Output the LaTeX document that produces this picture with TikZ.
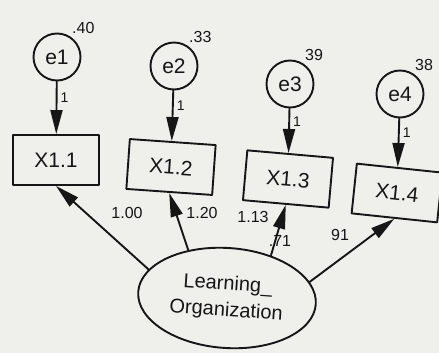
\documentclass[tikz,border=0pt]{standalone}
\usepackage{fontspec}
\setmainfont{Liberation Sans}
\usetikzlibrary{arrows.meta,shapes.geometric}
\newcommand{\Unit}{1pt}
\newcommand{\Edge}{1.9pt}
\definecolor{ink}{HTML}{161616}
\definecolor{paper}{HTML}{EFEFEB}

\tikzset{
  errvar/.style={circle,draw=ink,line width=\Edge,minimum size=47pt,inner sep=0pt,
    text=ink,font=\fontsize{21}{23}\selectfont},
  indic/.style={rectangle,draw=ink,line width=\Edge,minimum width=86pt,minimum height=50pt,
    inner sep=0pt,text=ink,font=\fontsize{21}{24}\selectfont},
  latent/.style={ellipse,draw=ink,line width=\Edge,minimum width=178pt,minimum height=100pt,
    inner sep=0pt,align=center,text=ink,font=\fontsize{20}{26}\selectfont},
  load/.style={draw=ink,line width=\Edge,-{Triangle[length=24pt,width=12pt]}},
  num/.style={text=ink,inner sep=1pt,font=\fontsize{16}{17}\selectfont},
  one/.style={text=ink,inner sep=1pt,font=\fontsize{14}{15}\selectfont}
}

\begin{document}
\begin{tikzpicture}[x=\Unit,y=-\Unit, line join=round, line cap=round]

  \fill[paper] (0,0) rectangle (439,353);
  \useasboundingbox (0,0) rectangle (439,353);

  % ---- the latent factor, below ---------------------------------------------
  \node[latent,rotate=-4] (LO) at (227,298) {Learning\_\\Organization};

  % ---- the four indicators and their error terms ----------------------------
  \foreach \i/\ex/\ey/\bx/\by/\tilt/\var in {1/57/57/56/160/0/.40,
      2/174/66/171/167/-4/.33, 3/290/84/288/179/-5/39, 4/400/94/397/193/-6/38} {
    \node[errvar,label={[num,label distance=2pt]58:\var}] (e\i) at (\ex,\ey) {e\i};
    \node[indic,rotate=\tilt] (X\i) at (\bx,\by) {X1.\i};
    \draw[load] (e\i) -- node[one,anchor=west,pos=0.3,xshift=2pt] {1} (X\i);
  }

  % ---- loadings from the factor ---------------------------------------------
  \foreach \i/\a in {1/164,2/133,3/48,4/15}
    \draw[load] (LO.\a) -- (X\i.south);

  \node[num] (w1) at (127,213) {1.00};
  \node[num] (w2) at (202,213) {1.20};
  \node[num] (w3) at (253,217) {1.13};
  \node[num] (r3) at (280,241) {.71};
  \node[num] (w4) at (340,235) {91};

\end{tikzpicture}
\end{document}
